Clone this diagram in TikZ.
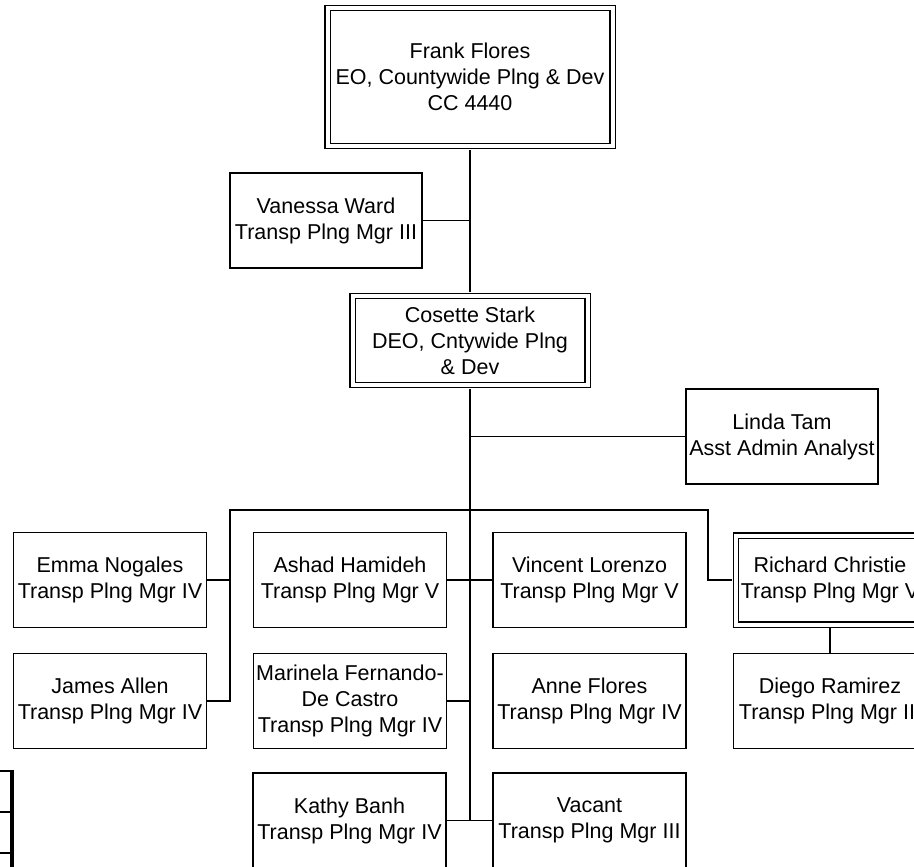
\documentclass[tikz,border=0pt]{standalone}
\usepackage{fontspec}
\setmainfont{Liberation Sans}
\begin{document}
\begin{tikzpicture}[x=1pt,y=-1pt]
\tikzset{
 box/.style={draw, line width=1.8pt, minimum width=193pt, minimum height=95pt, inner sep=0pt, align=center, font=\fontsize{21.5}{26}\selectfont},
 dbox/.style={box, double, double distance=4pt, line width=1.3pt},
 conn/.style={line width=1.8pt},
 dconn/.style={conn, shorten <=3.3pt, shorten >=3.3pt}
}
\useasboundingbox (0,0) rectangle (914,867);
\clip (0,0) rectangle (914,867);

\node[dbox, minimum width=285pt, minimum height=138pt] (frank) at (470,77) {Frank Flores\\EO, Countywide Plng \& Dev\\CC 4440};
\node[box, minimum width=192pt] (vanessa) at (326,220.5) {Vanessa Ward\\Transp Plng Mgr III};
\node[dbox, minimum width=235pt, minimum height=89pt] (cosette) at (470,340.5) {Cosette Stark\\DEO, Cntywide Plng\\\& Dev};
\node[box, minimum width=192pt] (linda) at (782,436.5) {Linda Tam\\Asst Admin Analyst};
\node[box] (emma) at (110,580) {Emma Nogales\\Transp Plng Mgr IV};
\node[box] (james) at (110,701) {James Allen\\Transp Plng Mgr IV};
\node[box] (ashad) at (350,580) {Ashad Hamideh\\Transp Plng Mgr V};
\node[box] (vincent) at (589.5,580) {Vincent Lorenzo\\Transp Plng Mgr V};
\node[box] (marinela) at (350,701) {Marinela Fernando-\\De Castro\\Transp Plng Mgr IV};
\node[box] (anne) at (589.5,701) {Anne Flores\\Transp Plng Mgr IV};
\node[box] (kathy) at (349.5,820.5) {Kathy Banh\\Transp Plng Mgr IV};
\node[box] (vacant) at (589.5,820.5) {Vacant\\Transp Plng Mgr III};
\node[dbox, minimum width=188pt, minimum height=89pt] (richard) at (830,580) {Richard Christie\\Transp Plng Mgr V};
\node[box] (diego) at (830,701) {Diego Ramirez\\Transp Plng Mgr III};

\coordinate (endc) at (470,821);
\coordinate (lb) at (230,510);
\coordinate (rb) at (708,510);

\draw[dconn] (frank.south) -- (cosette.north);
\draw[conn, shorten <=3.3pt] (cosette.south) -- (endc);
\draw[conn] (vanessa.east) -- (vanessa.east -| frank.south);
\draw[conn] (linda.west) -- (linda.west -| cosette.south);
\draw[conn, shorten >=3.3pt] (james.east) -| (lb) -- (rb) |- (richard.west);
\draw[conn] (emma.east) -- (emma.east -| lb);
\draw[conn] (ashad.east) -- (vincent.west);
\draw[conn] (marinela.east) -- (marinela.east -| endc);
\draw[conn] (kathy.east) -- (vacant.west);
\draw[conn, shorten <=3.3pt] (richard.south) -- (diego.north);

% partial table at bottom left
\draw[line width=1.5pt] (-20,771) -- (12,771) (-20,812) -- (12,812) (-20,853) -- (12,853);
\draw[line width=3.5pt] (12,769.5) -- (12,900);
\end{tikzpicture}
\end{document}
